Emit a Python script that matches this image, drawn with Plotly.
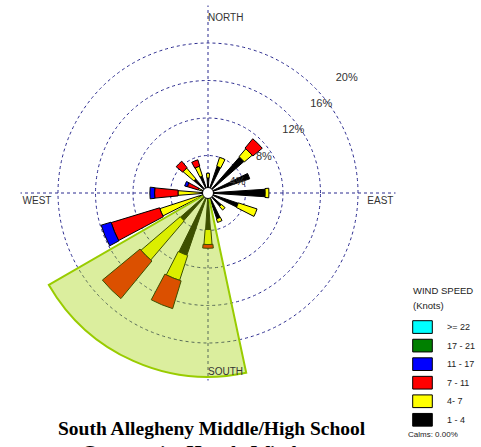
import plotly.graph_objects as go

# ---- data -------------------------------------------------------------
DIRECTIONS = ["N", "NNE", "NE", "ENE", "E", "ESE", "SE", "SSE",
              "S", "SSW", "SW", "WSW", "W", "WNW", "NW", "NNW"]

# frequency (%) of each wind-speed class per direction (knots)
FREQ_1_4 = [1.6, 3.0, 5.1, 4.7, 6.1, 3.4, 1.9, 2.9, 3.9, 7.0, 3.9, 1.0, 0.8, 0.7, 2.0, 1.9]
FREQ_4_7 = [0.5, 1.0, 1.1, 0.0, 0.4, 2.1, 0.5, 0.4, 1.6, 2.8, 5.5, 4.4, 2.4, 0.4, 1.5, 1.1]
FREQ_7_11 = [0.0, 0.0, 1.3, 0.0, 0.0, 0.0, 0.0, 0.0, 0.4, 3.1, 5.2, 5.4, 2.5, 1.2, 0.9, 0.7]
FREQ_11_17 = [0.0, 0.0, 0.0, 0.0, 0.0, 0.0, 0.0, 0.0, 0.0, 0.0, 0.0, 1.1, 0.5, 0.3, 0.0, 0.0]
FREQ_17_21 = [0.0] * 16
FREQ_GE_22 = [0.0] * 16

SPEED_LABELS = ["1 - 4", "4- 7", "7 - 11", "11 - 17", "17 - 21", ">= 22"]
RING_VALUES = [4, 8, 12, 16, 20]
RING_LABELS = ["4%", "8%", "12%", "16%", "20%"]
CALMS_PCT = 0.00

# highlighted sector (bearing degrees, radius in %)
SECTOR_FROM = 168
SECTOR_TO = 240
SECTOR_R = 19.6

# ---- styles -----------------------------------------------------------
CLASS_COLORS = ["#000000", "#ffff00", "#ff0000", "#0000ff", "#008000", "#00ffff"]
CLASS_WIDTHS = [7.5, 9, 11, 11.5, 12, 13]
GRID_COLOR = "#2b2b8f"
LABEL_FONT = "Liberation Sans, Arial, sans-serif"

W, H = 481, 447
CX, CY, RPX = 208, 193, 187.5

theta_all = [i * 22.5 for i in range(len(DIRECTIONS))]
classes = [FREQ_1_4, FREQ_4_7, FREQ_7_11, FREQ_11_17, FREQ_17_21, FREQ_GE_22]

fig = go.Figure()

# stacked petals, each speed class starting where the previous one ends
cum = [0.0] * len(DIRECTIONS)
for freq, color, width, name in zip(classes, CLASS_COLORS, CLASS_WIDTHS, SPEED_LABELS):
    idx = [i for i, v in enumerate(freq) if v > 0]
    if idx:
        fig.add_trace(go.Barpolar(
            r=[freq[i] for i in idx],
            theta=[theta_all[i] for i in idx],
            base=[cum[i] for i in idx],
            width=width, name=name,
            marker=dict(color=color, line=dict(color="#000000", width=1)),
            showlegend=False,
        ))
    cum = [c + v for c, v in zip(cum, freq)]

# translucent highlighted sector over the southwest petals
fig.add_trace(go.Barpolar(
    r=[SECTOR_R], theta=[(SECTOR_FROM + SECTOR_TO) / 2], width=[SECTOR_TO - SECTOR_FROM],
    marker=dict(color="rgba(160,210,0,0.38)", line=dict(color="#99cc00", width=2)),
    showlegend=False, hoverinfo="skip",
))

# calm circle at the centre
fig.add_trace(go.Scatterpolar(
    r=[0], theta=[0], mode="markers",
    marker=dict(size=11, color="white", line=dict(color="black", width=1)),
    showlegend=False, hoverinfo="skip",
))

# ring percentage labels
fig.add_trace(go.Scatterpolar(
    r=[3.34, 7.07, 11.28, 15.36, 19.2],
    theta=[70.4, 57.6, 53.8, 51.8, 50.4],
    mode="text", text=RING_LABELS,
    textfont=dict(family=LABEL_FONT, size=11, color="#333333"),
    showlegend=False, hoverinfo="skip",
))

# compass labels
compass = [("NORTH", 19.2, 0, "bottom right"), ("EAST", 19.8, 92.5, "middle left"),
           ("SOUTH", 19.7, 180, "top right"), ("WEST", 19.8, 267.5, "middle right")]
for txt, rr, th, pos in compass:
    fig.add_trace(go.Scatterpolar(
        r=[rr], theta=[th], mode="text", text=[txt], textposition=pos,
        textfont=dict(family=LABEL_FONT, size=10, color="#333333"),
        showlegend=False, hoverinfo="skip",
    ))

fig.update_layout(
    width=W, height=H,
    margin=dict(l=0, r=0, t=0, b=0),
    paper_bgcolor="white",
    polar=dict(
        domain=dict(x=[(CX - RPX) / W, (CX + RPX) / W],
                    y=[(H - CY - RPX) / H, (H - CY + RPX) / H]),
        bgcolor="white",
        barmode="overlay",
        radialaxis=dict(range=[0, RING_VALUES[-1]], tickvals=RING_VALUES,
                        showticklabels=False, ticks="", showline=False,
                        gridcolor=GRID_COLOR, gridwidth=1, griddash="3px,3px"),
        angularaxis=dict(rotation=90, direction="clockwise",
                         tickvals=[0, 90, 180, 270], showticklabels=False, ticks="",
                         showline=False, gridcolor=GRID_COLOR, gridwidth=1,
                         griddash="3px,3px"),
    ),
)

# wind-speed key
shapes, annotations = [], []
box_x0, box_x1 = 412.7, 432.3
top0, step, bh = 320.7, 18.55, 12.7
for i, (color, name) in enumerate(zip(CLASS_COLORS[::-1], SPEED_LABELS[::-1])):
    y0 = top0 + i * step
    shapes.append(dict(type="rect", xref="paper", yref="paper",
                       x0=box_x0 / W, x1=box_x1 / W,
                       y0=1 - (y0 + bh) / H, y1=1 - y0 / H,
                       fillcolor=color, line=dict(color="black", width=1)))
    annotations.append(dict(x=445 / W, y=1 - (y0 + bh / 2) / H, xref="paper", yref="paper",
                            text=name, showarrow=False, xanchor="left", yanchor="middle",
                            font=dict(family=LABEL_FONT, size=9, color="#222222")))

annotations += [
    dict(x=411 / W, y=1 - 290.5 / H, xref="paper", yref="paper", text="WIND SPEED",
         showarrow=False, xanchor="left", yanchor="middle",
         font=dict(family=LABEL_FONT, size=9.5, color="#222222")),
    dict(x=411 / W, y=1 - 305.5 / H, xref="paper", yref="paper", text="(Knots)",
         showarrow=False, xanchor="left", yanchor="middle",
         font=dict(family=LABEL_FONT, size=9.5, color="#222222")),
    dict(x=406 / W, y=1 - 434.7 / H, xref="paper", yref="paper",
         text=f"Calms: {CALMS_PCT:.2f}%",
         showarrow=False, xanchor="left", yanchor="middle",
         font=dict(family=LABEL_FONT, size=8, color="#222222")),
    dict(x=211.5 / W, y=1 - 428 / H, xref="paper", yref="paper",
         text="<b>South Allegheny Middle/High School</b>",
         showarrow=False, xanchor="center", yanchor="middle",
         font=dict(family="Liberation Serif, Times New Roman, serif", size=19.5, color="black")),
    dict(x=193 / W, y=1 - 452 / H, xref="paper", yref="paper",
         text="<b>Community Hourly Winds</b>",
         showarrow=False, xanchor="center", yanchor="middle",
         font=dict(family="Liberation Serif, Times New Roman, serif", size=19.5, color="black")),
]
fig.update_layout(shapes=shapes, annotations=annotations)

fig.write_html("out.html")
